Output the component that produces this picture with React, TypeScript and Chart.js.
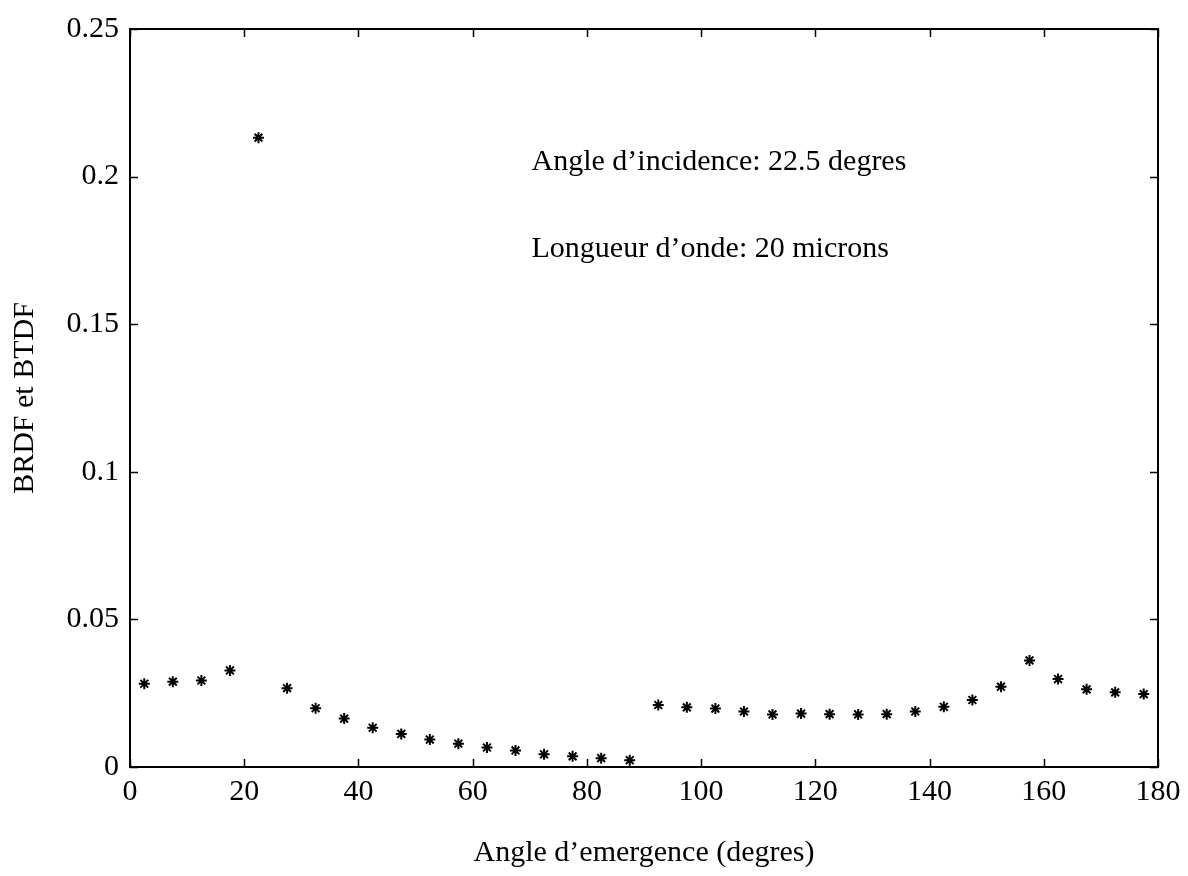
import React, { useEffect, useRef } from "react";
import { Chart, registerables } from "chart.js";

Chart.register(...registerables);

const ANGLES = [
  2.5, 7.5, 12.5, 17.5, 22.5, 27.5, 32.5, 37.5, 42.5, 47.5, 52.5, 57.5, 62.5, 67.5, 72.5, 77.5, 82.5, 87.5,
  92.5, 97.5, 102.5, 107.5, 112.5, 117.5, 122.5, 127.5, 132.5, 137.5, 142.5, 147.5, 152.5, 157.5, 162.5,
  167.5, 172.5, 177.5,
];
const BRDF_BTDF = [
  0.0282, 0.0289, 0.0293, 0.0327, 0.2132, 0.0267, 0.0199, 0.0164, 0.0133, 0.0112, 0.0093, 0.0079, 0.0066,
  0.0056, 0.0043, 0.0036, 0.003, 0.0023, 0.021, 0.0202, 0.0198, 0.0188, 0.0178, 0.0181, 0.0179, 0.0178,
  0.0179, 0.0188, 0.0204, 0.0227, 0.0272, 0.0361, 0.0298, 0.0263, 0.0253, 0.0247,
];
const X_TICKS = [0, 20, 40, 60, 80, 100, 120, 140, 160, 180];
const Y_TICKS = [0, 0.05, 0.1, 0.15, 0.2, 0.25];
const Y_TICK_LABELS = ["0", "0.05", "0.1", "0.15", "0.2", "0.25"];
const X_TITLE = "Angle d’emergence (degres)";
const Y_TITLE = "BRDF et BTDF";
const NOTES = ["Angle d’incidence: 22.5 degres", "Longueur d’onde: 20 microns"];
const NOTE_X = 70.3;
const NOTE_Y = [0.205, 0.1753];

const FONT_FAMILY = "'Liberation Serif', 'Times New Roman', serif";
const FONT_SIZE = 30;

const framePlugin = {
  id: "matlabFrame",
  afterDraw(chart: any) {
    const { ctx, chartArea } = chart;
    const { left, right, top, bottom } = chartArea;
    const xs = chart.scales.x;
    const ys = chart.scales.y;
    ctx.save();
    ctx.strokeStyle = "#000";
    ctx.lineWidth = 2;
    ctx.strokeRect(left, top, right - left, bottom - top);
    ctx.lineWidth = 1.5;
    const tl = 8;
    ctx.beginPath();
    xs.ticks.forEach((t: any) => {
      const px = Math.round(xs.getPixelForValue(t.value)) + 0.5;
      ctx.moveTo(px, bottom);
      ctx.lineTo(px, bottom - tl);
      ctx.moveTo(px, top);
      ctx.lineTo(px, top + tl);
    });
    ys.ticks.forEach((t: any) => {
      const py = Math.round(ys.getPixelForValue(t.value)) + 0.5;
      ctx.moveTo(left, py);
      ctx.lineTo(left + tl, py);
      ctx.moveTo(right, py);
      ctx.lineTo(right - tl, py);
    });
    ctx.stroke();
    ctx.font = `${FONT_SIZE}px ${FONT_FAMILY}`;
    ctx.fillStyle = "#000";
    ctx.textAlign = "left";
    ctx.textBaseline = "middle";
    NOTES.forEach((text, i) => {
      ctx.fillText(text, xs.getPixelForValue(NOTE_X), ys.getPixelForValue(NOTE_Y[i]));
    });
    ctx.restore();
  },
};

export default function App() {
  const canvasRef = useRef<HTMLCanvasElement | null>(null);

  useEffect(() => {
    if (!canvasRef.current) return;
    const font = { family: FONT_FAMILY, size: FONT_SIZE, lineHeight: 1.2 };
    const chart = new Chart(canvasRef.current, {
      type: "scatter",
      data: {
        datasets: [
          {
            label: Y_TITLE,
            data: ANGLES.map((a, i) => ({ x: a, y: BRDF_BTDF[i] })),
            pointStyle: "star",
            pointRadius: 5.5,
            borderWidth: 2,
            borderColor: "#000",
            backgroundColor: "#000",
            showLine: false,
          },
        ],
      },
      options: {
        animation: false,
        responsive: false,
        devicePixelRatio: 1,
        layout: { padding: { left: 0, right: 30, top: 18, bottom: 0 } },
        plugins: {
          legend: { display: false },
          tooltip: { enabled: false },
        },
        scales: {
          x: {
            type: "linear",
            min: 0,
            max: 180,
            afterBuildTicks: (scale: any) => {
              scale.ticks = X_TICKS.map((v) => ({ value: v }));
            },
            afterFit: (scale: any) => {
              scale.height = 109;
            },
            ticks: {
              color: "#000",
              font,
              padding: 7,
              maxRotation: 0,
              autoSkip: false,
              callback: (v: any) => String(v),
            },
            grid: { display: false, drawTicks: false },
            border: { display: false },
            title: {
              display: true,
              text: X_TITLE,
              color: "#000",
              font,
              padding: { top: 0, bottom: 5 },
            },
          },
          y: {
            type: "linear",
            min: 0,
            max: 0.25,
            afterBuildTicks: (scale: any) => {
              scale.ticks = Y_TICKS.map((v) => ({ value: v }));
            },
            afterFit: (scale: any) => {
              scale.width = 130;
            },
            ticks: {
              color: "#000",
              font,
              padding: 11,
              autoSkip: false,
              callback: (v: any) => {
                const idx = Y_TICKS.findIndex((t) => Math.abs(t - Number(v)) < 1e-9);
                return idx >= 0 ? Y_TICK_LABELS[idx] : "";
              },
            },
            grid: { display: false, drawTicks: false },
            border: { display: false },
            title: {
              display: true,
              text: Y_TITLE,
              color: "#000",
              font,
              padding: { top: 7, bottom: 0 },
            },
          },
        },
      },
      plugins: [framePlugin],
    } as any);
    return () => chart.destroy();
  }, []);

  return (
    <div style={{ position: "absolute", left: 0, top: 0, width: 1188, height: 876, background: "#fff" }}>
      <canvas ref={canvasRef} width={1188} height={876} style={{ display: "block" }} />
    </div>
  );
}
